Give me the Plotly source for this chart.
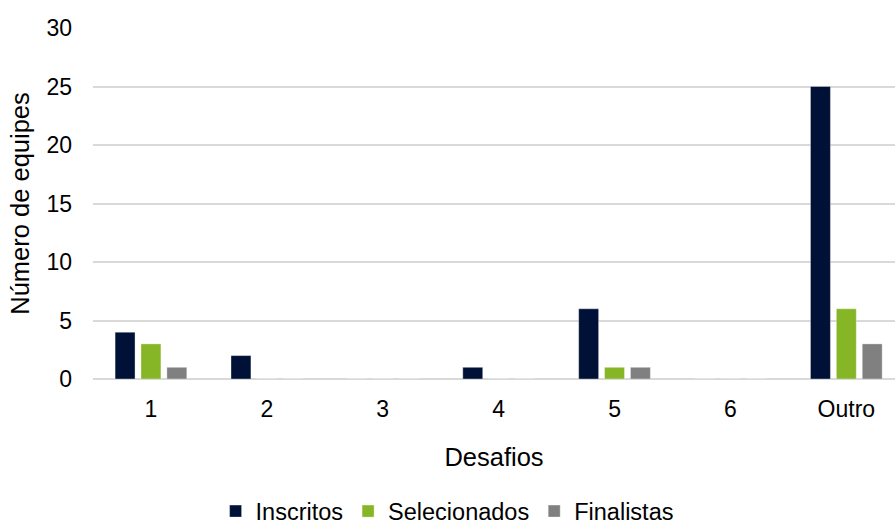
import plotly.graph_objects as go

desafios = ["1", "2", "3", "4", "5", "6", "Outro"]
inscritos = [4, 2, 0, 1, 6, 0, 25]
selecionados = [3, 0, 0, 0, 1, 0, 6]
finalistas = [1, 0, 0, 0, 1, 0, 3]

series = [
    ("Inscritos", inscritos, "#001137"),
    ("Selecionados", selecionados, "#86b526"),
    ("Finalistas", finalistas, "#808080"),
]

fig = go.Figure()
for name, vals, color in series:
    fig.add_trace(go.Bar(
        name=name, x=desafios, y=vals,
        marker=dict(color=color, line=dict(color="rgba(255,255,255,0.35)", width=1)),
    ))

font = "Liberation Sans, Arial, sans-serif"
fig.update_layout(
    width=895, height=521,
    margin=dict(l=93, r=0, t=28, b=142, autoexpand=False),
    paper_bgcolor="white", plot_bgcolor="white",
    barmode="group", bargap=0.33, bargroupgap=0.23,
    font=dict(family=font, size=23, color="#000000"),
    showlegend=True,
    legend=dict(orientation="h", x=0.4415, xanchor="center", y=-0.377, yanchor="middle",
                font=dict(size=23.5), itemclick=False, traceorder="normal",
                bgcolor="rgba(0,0,0,0)"),
)
fig.update_xaxes(
    type="category", range=[-0.5, 6.42],
    showgrid=False, showline=False, zeroline=False,
    ticks="", ticklabelstandoff=14,
    title=dict(text="Desafios", standoff=27, font=dict(size=25.5)),
)
fig.update_yaxes(
    range=[0, 30], dtick=5, showgrid=True, gridcolor="#d9d9d9", gridwidth=1.5,
    zeroline=True, zerolinecolor="#d9d9d9", zerolinewidth=1.5,
    showline=False, ticks="", ticklabelstandoff=20,
    title=dict(text="Número de equipes", standoff=9, font=dict(size=25.5)),
)

fig.write_html("out.html")
